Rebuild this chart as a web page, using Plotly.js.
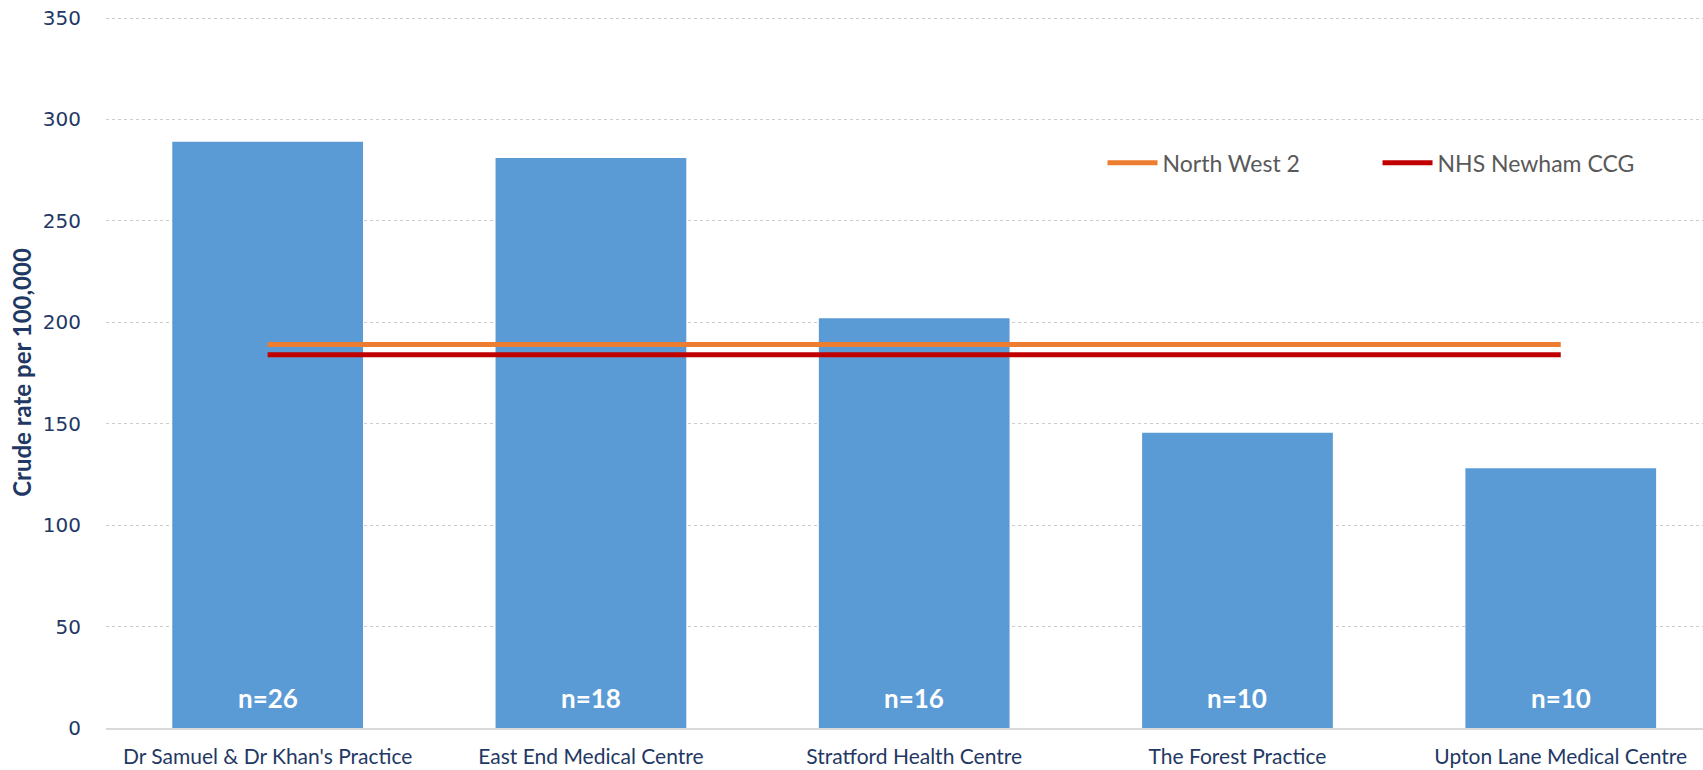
<!DOCTYPE html>
<html>
<head>
<meta charset="utf-8">
<script src="https://cdn.plot.ly/plotly-3.0.1.min.js"></script>
<style>
html, body { margin: 0; padding: 0; background: #ffffff; }
#chart { width: 1703px; height: 770px; }
</style>
</head>
<body>
<div id="chart"></div>
<script>
var practices = ["Dr Samuel & Dr Khan's Practice", "East End Medical Centre", "Stratford Health Centre", "The Forest Practice", "Upton Lane Medical Centre"];
var crudeRates = [289, 281, 202, 145.5, 128];
var counts = ["n=26", "n=18", "n=16", "n=10", "n=10"];
var northWest2 = [189, 189, 189, 189, 189];
var newhamCCG = [184, 184, 184, 184, 184];
var yTicks = [0, 50, 100, 150, 200, 250, 300, 350];

var navy = "#1f3864";

var traces = [
  {
    type: "bar",
    x: practices,
    y: crudeRates,
    marker: { color: "#5b9bd5" },
    showlegend: false,
    hoverinfo: "skip"
  },
  {
    type: "scatter",
    mode: "lines",
    name: "North West 2",
    x: practices,
    y: northWest2,
    line: { color: "#ed7d31", width: 5 },
    hoverinfo: "skip"
  },
  {
    type: "scatter",
    mode: "lines",
    name: "NHS Newham CCG",
    x: practices,
    y: newhamCCG,
    line: { color: "#c00000", width: 5 },
    hoverinfo: "skip"
  }
];

var annotations = practices.map(function (p, i) {
  return {
    x: p, y: 0, xref: "x", yref: "y",
    text: counts[i],
    showarrow: false,
    yanchor: "middle",
    yshift: 30,
    font: { family: "Lato, sans-serif", size: 26, color: "#ffffff", weight: "bold" }
  };
});

var layout = {
  width: 1703,
  height: 770,
  margin: { l: 106, r: 0, t: 17, b: 42 },
  paper_bgcolor: "#ffffff",
  plot_bgcolor: "#ffffff",
  bargap: 0.41,
  xaxis: {
    type: "category",
    range: [-0.5, 4.44],
    showgrid: false,
    showline: true,
    linecolor: "#d9d9d9",
    linewidth: 2,
    ticks: "outside",
    ticklen: 9,
    tickcolor: "rgba(0,0,0,0)",
    tickfont: { family: "Lato, sans-serif", size: 21, color: navy },
    automargin: false,
    fixedrange: true
  },
  yaxis: {
    range: [0, 350.5],
    tickvals: yTicks,
    ticktext: yTicks.map(String),
    showgrid: true,
    gridcolor: "#cccccc",
    griddash: "dot",
    gridwidth: 1,
    zeroline: false,
    showline: false,
    ticks: "outside",
    ticklen: 20,
    tickcolor: "rgba(0,0,0,0)",
    tickfont: { family: "DejaVu Sans, sans-serif", size: 20, color: navy },
    title: {
      text: "Crude rate per 100,000",
      font: { family: "Lato, sans-serif", size: 24, color: navy, weight: "bold" },
      standoff: 4
    },
    automargin: false,
    fixedrange: true
  },
  legend: {
    orientation: "h",
    x: 0.624,
    xanchor: "left",
    y: 0.795,
    yanchor: "middle",
    bgcolor: "rgba(0,0,0,0)",
    font: { family: "Lato, sans-serif", size: 23, color: "#595959" },
    itemwidth: 50,
    entrywidth: 210,
    entrywidthmode: "pixels"
  },
  annotations: annotations,
  showlegend: true
};

Plotly.newPlot("chart", traces, layout, { displayModeBar: false, staticPlot: true });
</script>
</body>
</html>
